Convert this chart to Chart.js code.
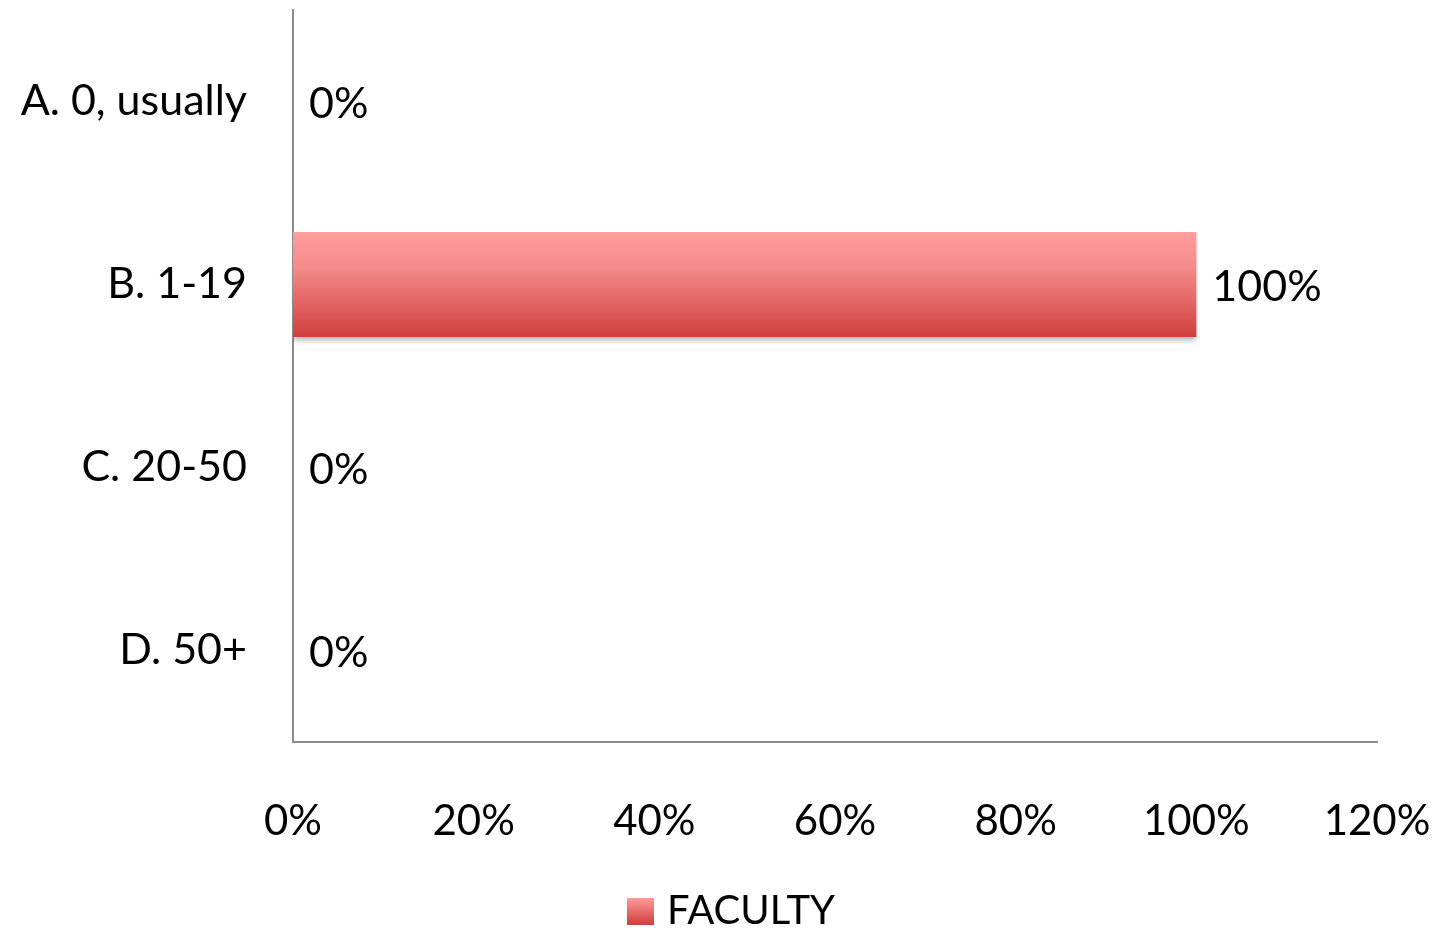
<!DOCTYPE html>
<html>
<head>
<meta charset="utf-8">
<script src="https://cdn.jsdelivr.net/npm/chart.js@4/dist/chart.umd.min.js"></script>
<style>
  html, body { margin: 0; padding: 0; background: #fff; }
  #wrap { width: 1443px; height: 929px; }
</style>
</head>
<body>
<div id="wrap"><canvas id="chartCanvas" width="1443" height="929"></canvas></div>
<script>
// data
const categories = ["A. 0, usually", "B. 1-19", "C. 20-50", "D. 50+"];
const facultyValues = [0, 100, 0, 0];
const xTicks = [0, 20, 40, 60, 80, 100, 120];
const seriesName = "FACULTY";

const FONT = "Lato, 'Open Sans', sans-serif";
const TOP_COLOR = "#ff9d9d";
const BOTTOM_COLOR = "#d03f3c";
const AXIS_COLOR = "#8c8c8c";

// little gradient square for the legend
function legendSwatch() {
    const c = document.createElement("canvas");
    c.width = 27;
    c.height = 27;
    const g = c.getContext("2d");
    const grad = g.createLinearGradient(0, 0, 0, 27);
    grad.addColorStop(0, TOP_COLOR);
    grad.addColorStop(1, BOTTOM_COLOR);
    g.fillStyle = grad;
    g.fillRect(0, 0, 27, 27);
    return c;
}

// bar gradient, computed from the category band of each bar
function barFill(context) {
    const chart = context.chart;
    const ys = chart.scales.y;
    if (!ys || !chart.chartArea) return BOTTOM_COLOR;
    const mid = ys.getPixelForValue(context.dataIndex);
    const half = (ys.height / categories.length) * 0.575 / 2;
    const grad = chart.ctx.createLinearGradient(0, mid - half, 0, mid + half);
    grad.addColorStop(0, TOP_COLOR);
    grad.addColorStop(0.35, "#f48a8a");
    grad.addColorStop(1, BOTTOM_COLOR);
    return grad;
}

// soft shadow under the bars
const barShadow = {
    id: "barShadow",
    beforeDatasetsDraw(chart) {
        const ctx = chart.ctx;
        ctx.save();
        ctx.shadowColor = "rgba(0,0,0,0.28)";
        ctx.shadowBlur = 5;
        ctx.shadowOffsetY = 4;
    },
    afterDatasetsDraw(chart) {
        chart.ctx.restore();
    }
};

// value labels to the right of each bar
const valueLabels = {
    id: "valueLabels",
    afterDatasetsDraw(chart) {
        const ctx = chart.ctx;
        const meta = chart.getDatasetMeta(0);
        ctx.save();
        ctx.font = "43px " + FONT;
        ctx.fillStyle = "#000";
        ctx.textAlign = "left";
        ctx.textBaseline = "middle";
        meta.data.forEach((bar, i) => {
            ctx.fillText(facultyValues[i] + "%", bar.x + 16, bar.y + 3);
        });
        ctx.restore();
    }
};

// legend sits a bit right of the canvas centre in the original
const legendShift = {
    id: "legendShift",
    afterLayout(chart) {
        if (chart.legend) {
            chart.legend.left += 46;
            chart.legend.right += 46;
        }
    }
};

// keep the scales from adding their own label padding
function noPadding(scale) {
    scale.paddingTop = 0;
    scale.paddingBottom = 0;
    scale.paddingLeft = 0;
    scale.paddingRight = 0;
}

new Chart(document.getElementById("chartCanvas"), {
    type: "bar",
    data: {
        labels: categories,
        datasets: [{
            label: seriesName,
            data: facultyValues,
            backgroundColor: barFill,
            borderWidth: 0,
            categoryPercentage: 1,
            barPercentage: 0.575
        }]
    },
    options: {
        indexAxis: "y",
        responsive: false,
        animation: false,
        devicePixelRatio: 1,
        layout: {
            padding: { top: 10, right: 66, left: 0, bottom: -12 }
        },
        plugins: {
            tooltip: { enabled: false },
            legend: {
                position: "bottom",
                labels: {
                    usePointStyle: true,
                    pointStyle: legendSwatch(),
                    pointStyleWidth: 13,
                    color: "#000",
                    font: { family: FONT, size: 40 },
                    padding: 8
                }
            }
        },
        scales: {
            x: {
                min: 0,
                max: 120,
                afterBuildTicks(scale) {
                    scale.ticks = xTicks.map(v => ({ value: v }));
                },
                grid: { display: false, drawTicks: false },
                border: { color: AXIS_COLOR, width: 2 },
                ticks: {
                    color: "#000",
                    font: { family: FONT, size: 42 },
                    padding: 54,
                    maxRotation: 0,
                    callback: v => v + "%"
                },
                afterFit(scale) {
                    scale.height = 141;
                    noPadding(scale);
                }
            },
            y: {
                grid: { display: false, drawTicks: false },
                border: { color: AXIS_COLOR, width: 2 },
                ticks: {
                    color: "#000",
                    font: { family: FONT, size: 43 },
                    padding: 46
                },
                afterFit(scale) {
                    scale.width = 293;
                    noPadding(scale);
                }
            }
        }
    },
    plugins: [barShadow, valueLabels, legendShift]
});
</script>
</body>
</html>
